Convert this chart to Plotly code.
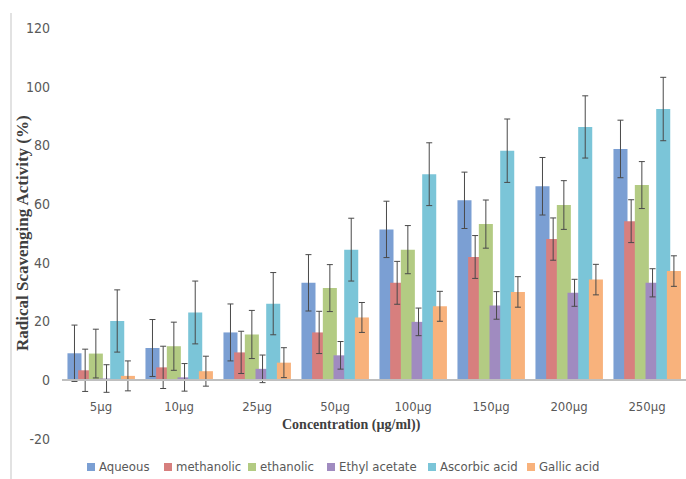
import plotly.graph_objects as go

categories = ["5µg", "10µg", "25µg", "50µg", "100µg", "150µg", "200µg", "250µg"]
series_names = ["Aqueous", "methanolic", "ethanolic", "Ethyl acetate", "Ascorbic acid", "Gallic acid"]

aqueous = [9.2, 11.0, 16.3, 33.2, 51.4, 61.3, 66.1, 78.8]
methanolic = [3.4, 4.4, 9.5, 16.3, 33.2, 42.0, 48.1, 54.2]
ethanolic = [9.1, 11.6, 15.6, 31.4, 44.5, 53.2, 59.7, 66.5]
ethyl_acetate = [0.6, 1.0, 3.9, 8.5, 19.9, 25.5, 29.8, 33.2]
ascorbic = [20.2, 23.1, 26.1, 44.5, 70.2, 78.2, 86.3, 92.4]
gallic = [1.5, 3.1, 6.0, 21.4, 25.2, 30.1, 34.3, 37.2]

aqueous_err = [9.6, 9.7, 9.7, 9.6, 9.6, 9.6, 9.8, 9.8]
methanolic_err = [7.2, 7.2, 7.2, 7.2, 7.3, 7.3, 7.2, 7.3]
ethanolic_err = [8.3, 8.2, 8.2, 8.0, 8.2, 8.2, 8.3, 8.0]
ethyl_acetate_err = [4.7, 4.7, 4.7, 4.7, 4.7, 4.7, 4.6, 4.8]
ascorbic_err = [10.6, 10.7, 10.6, 10.7, 10.7, 10.8, 10.6, 10.8]
gallic_err = [5.1, 5.1, 5.1, 5.1, 5.1, 5.2, 5.2, 5.2]

values = [aqueous, methanolic, ethanolic, ethyl_acetate, ascorbic, gallic]
errors = [aqueous_err, methanolic_err, ethanolic_err, ethyl_acetate_err, ascorbic_err, gallic_err]
colors = ["#7B9FD3", "#D77F7E", "#B3CB83", "#A08BC0", "#7BC5D8", "#F8B27C"]

y_ticks = [-20, 0, 20, 40, 60, 80, 100, 120]
y_tick_labels = ["-20", "0", "20", "40", "60", "80", "100", "120"]

W, H = 686, 479
ML, MR, MT, MB = 62, 0, 28, 40
PW, PH = W - ML - MR, H - MT - MB


def px(xp):
    return (xp - ML) / PW


def py(yp):
    return (H - MB - yp) / PH


fig = go.Figure()
bar_w = 0.18
step = 0.137
start = -0.43
for i, (name, v, e, c) in enumerate(zip(series_names, values, errors, colors)):
    fig.add_trace(go.Bar(
        name=name, x=categories, y=v, showlegend=False,
        marker=dict(color=c, line=dict(width=0)),
        width=bar_w, offset=start + i * step,
        error_y=dict(type="data", array=e, visible=True, color="#4a4a4a",
                     thickness=1, width=3),
    ))

sans = "DejaVu Sans Condensed, Liberation Sans"
fig.update_layout(
    barmode="overlay",
    width=W, height=H,
    margin=dict(l=ML, r=MR, t=MT, b=MB, autoexpand=False),
    paper_bgcolor="white", plot_bgcolor="white",
    showlegend=False,
    xaxis=dict(anchor="free", position=20 / 140, showline=True, linecolor="#BFBFBF",
               linewidth=1.5, ticks="", tickfont=dict(family=sans, size=13, color="#595959"),
               showgrid=False, ticklabelstandoff=14),
    yaxis=dict(range=[-20, 120], tickvals=y_ticks, ticktext=y_tick_labels,
               showgrid=False, zeroline=False,
               showline=False, ticks="", tickfont=dict(family=sans, size=14, color="#595959"),
               ticklabelstandoff=11),
)

fig.add_annotation(text="<b>Concentration (µg/ml))</b>", xref="paper", yref="paper",
                   x=px(351), y=py(425), xanchor="center", yanchor="middle", showarrow=False,
                   font=dict(family="Liberation Serif", size=14, color="#404040"))
fig.add_annotation(text="<b>Radical Scavenging Activity (%)</b>", xref="paper", yref="paper",
                   x=px(23), y=py(233), xanchor="center", yanchor="middle",
                   textangle=-90, showarrow=False,
                   font=dict(family="Liberation Serif", size=17, color="#404040"))
fig.add_shape(type="line", xref="paper", yref="paper",
              x0=px(11), x1=px(11), y0=py(479), y1=py(13),
              line=dict(color="#D9D9D9", width=1.5))

# custom one-row legend
legend_x = [87, 164, 248, 327, 428, 527]
ly = 467
for name, c, lx in zip(series_names, colors, legend_x):
    fig.add_shape(type="rect", xref="paper", yref="paper",
                  x0=px(lx), x1=px(lx + 8), y0=py(ly + 4), y1=py(ly - 4),
                  fillcolor=c, line=dict(width=0))
    fig.add_annotation(text=name, xref="paper", yref="paper", x=px(lx + 10), y=py(ly),
                       xanchor="left", yanchor="middle", showarrow=False,
                       font=dict(family=sans, size=13, color="#595959"))

fig.write_html("out.html", config={"displayModeBar": False},
               post_script="document.body.style.margin='0';document.body.style.overflow='hidden';")
